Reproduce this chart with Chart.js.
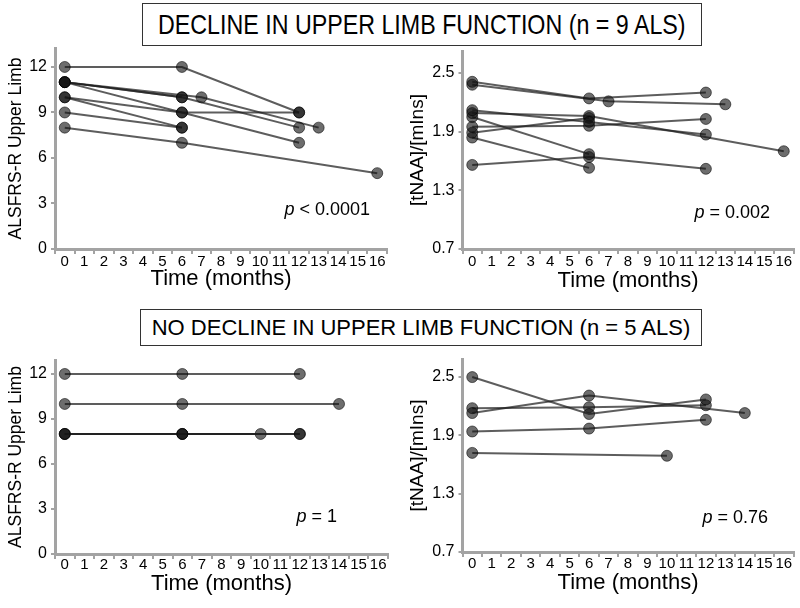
<!DOCTYPE html>
<html>
<head>
<meta charset="utf-8">
<script src="https://cdn.jsdelivr.net/npm/chart.js"></script>
<style>
  body { margin: 0; width: 800px; height: 608px; background: #fff; position: relative; overflow: hidden;
         font-family: "Liberation Sans", Arial, sans-serif; }
  canvas { position: absolute; }
  .hdr { position: absolute; border: 1px solid #333; box-sizing: border-box; background: #fff;
         display: flex; align-items: center; justify-content: center; white-space: nowrap; color: #000; }
  .pval { position: absolute; font-size: 18px; white-space: nowrap; color: #000; }
</style>
</head>
<body>
<canvas id="c1" width="400" height="270" style="left:0;top:30px"></canvas>
<canvas id="c2" width="400" height="270" style="left:400px;top:30px"></canvas>
<canvas id="c3" width="400" height="260" style="left:0;top:340px"></canvas>
<canvas id="c4" width="400" height="260" style="left:400px;top:340px"></canvas>

<div class="hdr" style="left:142px;top:3px;width:560px;height:43px;">
  <span style="font-size:28px;display:inline-block;transform:scaleX(0.83)">DECLINE IN UPPER LIMB FUNCTION (n = 9 ALS)</span>
</div>
<div class="hdr" style="left:140px;top:309px;width:562px;height:37px;">
  <span style="font-size:22px">NO DECLINE IN UPPER LIMB FUNCTION (n = 5 ALS)</span>
</div>

<div class="pval" style="right:430px;top:199px"><i>p</i> &lt; 0.0001</div>
<div class="pval" style="right:30px;top:202px"><i>p</i> = 0.002</div>
<div class="pval" style="right:463px;top:506px"><i>p</i> = 1</div>
<div class="pval" style="right:32px;top:507px"><i>p</i> = 0.76</div>

<script>
  // x axis categories (months) and y tick values
  const months = ['0','1','2','3','4','5','6','7','8','9','10','11','12','13','14','15','16'];
  const alsfrsTicks = [0, 3, 6, 9, 12];
  const naaTicks = [0.7, 1.3, 1.9, 2.5];

  // decline group (n = 9), one row per patient
  const declineAlsfrsMonths = [[0,6,12],[0,6,12],[0,6],[0,7,13],[0,6,12],[0,6,12],[0,6],[0,6],[0,6,16]];
  const declineAlsfrsScores = [[12,12,9],[11,10,8],[11,10],[11,10,8],[11,9,7],[10,9,9],[10,8],[9,8],[8,7,5]];

  const declineNaaMonths = [[0,6,12],[0,7,13],[0,6,12],[0,6,16],[0,6],[0,6,12],[0,6],[0,6],[0,6,12]];
  const declineNaaValues = [[2.41,2.24,2.30],[2.38,2.21,2.18],[2.12,2.00,1.87],[2.09,2.06,1.70],[2.05,1.67],
                            [1.95,1.96,2.03],[1.89,2.04],[1.84,1.53],[1.56,1.64,1.52]];

  // no decline group (n = 5)
  const stableAlsfrsMonths = [[0,6,12],[0,6,14],[0,6,12],[0,6,12],[0,6,10]];
  const stableAlsfrsScores = [[12,12,12],[10,10,10],[8,8,8],[8,8,8],[8,8,8]];

  const stableNaaMonths = [[0,6,12],[0,6,14],[0,6,12],[0,6,12],[0,10]];
  const stableNaaValues = [[2.50,2.12,2.27],[2.13,2.31,2.13],[2.18,2.19,2.21],[1.94,1.97,2.06],[1.72,1.69]];

  const FONT = '"Liberation Sans", Arial, sans-serif';
  const AXIS = '#a3a3a3';
  Chart.defaults.font.family = FONT;
  Chart.defaults.color = '#000';

  function panel(id, monthsList, valuesList, o) {
    const datasets = monthsList.map((ms, i) => ({
      data: ms.map((m, j) => ({ x: String(m), y: valuesList[i][j] })),
      borderColor: 'rgba(30,30,30,0.72)',
      borderWidth: 2,
      pointRadius: 5.5,
      pointBackgroundColor: 'rgba(20,20,20,0.62)',
      pointBorderColor: 'rgba(0,0,0,0.55)',
      pointBorderWidth: 1,
      tension: 0,
      fill: false
    }));

    new Chart(document.getElementById(id), {
      type: 'line',
      data: { labels: months, datasets: datasets },
      options: {
        responsive: false,
        animation: false,
        events: [],
        layout: { padding: { top: o.padTop, right: o.padRight, left: 0, bottom: 0 } },
        plugins: { legend: { display: false }, tooltip: { enabled: false } },
        scales: {
          x: {
            type: 'category',
            offset: true,
            grid: { offset: true, drawOnChartArea: false, tickLength: 5, color: AXIS, lineWidth: 2 },
            border: { color: AXIS, width: 3 },
            ticks: { font: { size: 15, lineHeight: 1.2 }, padding: o.xTickPad, autoSkip: false, maxRotation: 0 },
            title: { display: true, text: 'Time (months)', font: { size: 22, lineHeight: 1.2 },
                     padding: { top: 0, bottom: o.xTitlePad } },
            afterFit: s => { s.height = o.xHeight; }
          },
          y: {
            min: o.yMin,
            max: o.yMax,
            afterBuildTicks: s => { s.ticks = o.yTicks.map(v => ({ value: v })); },
            afterFit: s => { s.width = o.yWidth; },
            grid: { drawOnChartArea: false, tickLength: 4, color: AXIS, lineWidth: 2 },
            border: { color: AXIS, width: 3 },
            ticks: { font: { size: 16 }, padding: 4, callback: v => o.fmt(v) },
            title: { display: true, text: o.yTitle, font: { size: o.yTitleSize, lineHeight: 1.2 },
                     padding: { top: o.yTitlePad, bottom: 0 } }
          }
        }
      }
    });
  }

  const intFmt = v => String(v);
  const decFmt = v => v.toFixed(1);

  panel('c1', declineAlsfrsMonths, declineAlsfrsScores, {
    padTop: 18, padRight: 13, xHeight: 51, yWidth: 55, xTitlePad: 8, xTickPad: -1,
    yMin: 0, yMax: 13.25, yTicks: alsfrsTicks, fmt: intFmt,
    yTitle: 'ALSFRS-R Upper Limb', yTitleSize: 17.5, yTitlePad: 6
  });
  panel('c2', declineNaaMonths, declineNaaValues, {
    padTop: 21, padRight: 5.5, xHeight: 51, yWidth: 62.5, xTitlePad: 6, xTickPad: -1,
    yMin: 0.7, yMax: 2.725, yTicks: naaTicks, fmt: decFmt,
    yTitle: '[tNAA]/[mIns]', yTitleSize: 19, yTitlePad: 6.5
  });
  panel('c3', stableAlsfrsMonths, stableAlsfrsScores, {
    padTop: 20, padRight: 12, xHeight: 46, yWidth: 55, xTitlePad: 3, xTickPad: -3,
    yMin: 0, yMax: 12.93, yTicks: alsfrsTicks, fmt: intFmt,
    yTitle: 'ALSFRS-R Upper Limb', yTitleSize: 17.5, yTitlePad: 6
  });
  panel('c4', stableNaaMonths, stableNaaValues, {
    padTop: 19, padRight: 5.5, xHeight: 48, yWidth: 62.5, xTitlePad: 4, xTickPad: -2,
    yMin: 0.7, yMax: 2.686, yTicks: naaTicks, fmt: decFmt,
    yTitle: '[tNAA]/[mIns]', yTitleSize: 19, yTitlePad: 6.5
  });
</script>
</body>
</html>
